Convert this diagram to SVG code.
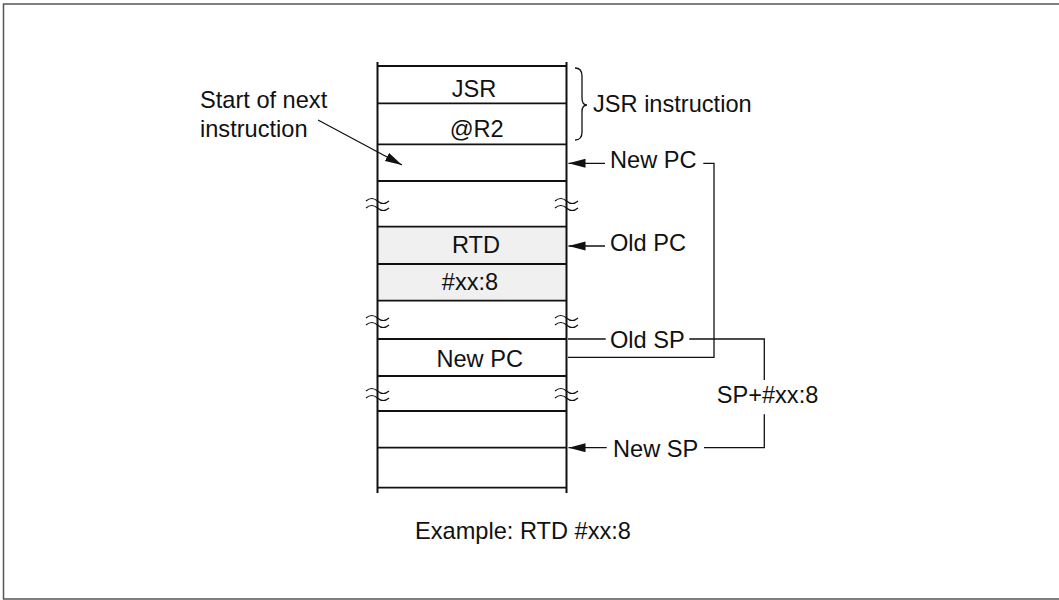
<svg xmlns="http://www.w3.org/2000/svg" width="1059" height="600" viewBox="0 0 1059 600">
<style>
text{font-family:"Liberation Sans",Arial,Helvetica,sans-serif;font-size:23.6px;fill:#111}
.c{text-anchor:middle}
.col{stroke:#111;stroke-width:2;fill:none}
.row{stroke:#111;stroke-width:1.8}
.cn{stroke:#111;stroke-width:1.3;fill:none}
.brk{stroke:#111;stroke-width:1.2;fill:none}
</style>
<defs>
<marker id="ah" markerUnits="userSpaceOnUse" markerWidth="18" markerHeight="10" refX="17" refY="4.5" orient="auto">
<path d="M0,0 L17,4.5 L0,9 Z" fill="#111"/>
</marker>
</defs>
<rect x="3.5" y="4" width="1057" height="595" fill="#fff" stroke="#555" stroke-width="1.5"/>

<g id="memory">
<rect x="377.5" y="226.7" width="189" height="74" fill="#f0f0f0"/>
<line class="col" x1="377.5" y1="62" x2="377.5" y2="493"/>
<line class="col" x1="566.5" y1="62" x2="566.5" y2="493"/>
<g class="row">
<line x1="377.5" y1="66" x2="566.5" y2="66"/>
<line x1="377.5" y1="103.3" x2="566.5" y2="103.3"/>
<line x1="377.5" y1="144.3" x2="566.5" y2="144.3"/>
<line x1="377.5" y1="181" x2="566.5" y2="181"/>
<line x1="377.5" y1="226.7" x2="566.5" y2="226.7"/>
<line x1="377.5" y1="264" x2="566.5" y2="264"/>
<line x1="377.5" y1="300.7" x2="566.5" y2="300.7"/>
<line x1="377.5" y1="339" x2="566.5" y2="339"/>
<line x1="377.5" y1="376" x2="566.5" y2="376"/>
<line x1="377.5" y1="411" x2="566.5" y2="411"/>
<line x1="377.5" y1="447.7" x2="566.5" y2="447.7"/>
<line x1="377.5" y1="487.7" x2="566.5" y2="487.7"/>
</g>
<g class="brk">
<path d="M366,201 q5.75,-5 11.5,0 t11.5,0"/>
<path d="M366,208 q5.75,-5 11.5,0 t11.5,0"/>
<path d="M555,201 q5.75,-5 11.5,0 t11.5,0"/>
<path d="M555,208 q5.75,-5 11.5,0 t11.5,0"/>
<path d="M366,318 q5.75,-5 11.5,0 t11.5,0"/>
<path d="M366,325 q5.75,-5 11.5,0 t11.5,0"/>
<path d="M555,318 q5.75,-5 11.5,0 t11.5,0"/>
<path d="M555,325 q5.75,-5 11.5,0 t11.5,0"/>
<path d="M366,391 q5.75,-5 11.5,0 t11.5,0"/>
<path d="M366,398 q5.75,-5 11.5,0 t11.5,0"/>
<path d="M555,391 q5.75,-5 11.5,0 t11.5,0"/>
<path d="M555,398 q5.75,-5 11.5,0 t11.5,0"/>
</g>
</g>

<g id="cell-jsr"><text class="c" x="474" y="96.7">JSR</text></g>
<g id="cell-r2"><text class="c" x="476.7" y="137">@R2</text></g>
<g id="cell-rtd"><text class="c" x="476" y="252.7">RTD</text></g>
<g id="cell-xx8"><text class="c" x="470" y="290">#xx:8</text></g>
<g id="cell-newpc"><text class="c" x="479.7" y="366.7">New PC</text></g>

<g id="label-start"><text x="200" y="108">Start of next</text><text x="200" y="136.7">instruction</text></g>
<g id="label-jsr-instr">
<path class="cn" d="M575,68 Q582,68 582,76 L582,98 Q582,105 587,105 Q582,105 582,112 L582,132 Q582,140 575,140"/>
<text x="593" y="111.5">JSR instruction</text>
</g>
<g id="label-newpc"><text x="610" y="167.7">New PC</text></g>
<g id="label-oldpc"><text x="610" y="250.5">Old PC</text></g>
<g id="label-oldsp"><text x="610" y="347.5">Old SP</text></g>
<g id="label-spxx"><text x="716.7" y="402.7">SP+#xx:8</text></g>
<g id="label-newsp"><text x="613" y="456.5">New SP</text></g>
<g id="caption"><text x="415" y="539">Example: RTD #xx:8</text></g>

<g id="connectors">
<line class="cn" x1="318" y1="120" x2="402" y2="165" marker-end="url(#ah)"/>
<line class="cn" x1="605" y1="163.3" x2="568.5" y2="163.3" marker-end="url(#ah)"/>
<line class="cn" x1="605" y1="246" x2="568.5" y2="246" marker-end="url(#ah)"/>
<line class="cn" x1="606.7" y1="447.7" x2="568.5" y2="447.7" marker-end="url(#ah)"/>
<polyline class="cn" points="703.3,163.3 714,163.3 714,357.3 568,357.3"/>
<line class="cn" x1="568" y1="339" x2="605.7" y2="339"/>
<polyline class="cn" points="689.3,339 764.3,339 764.3,380"/>
<polyline class="cn" points="764.3,414.3 764.3,447.7 704,447.7"/>
</g>
</svg>
